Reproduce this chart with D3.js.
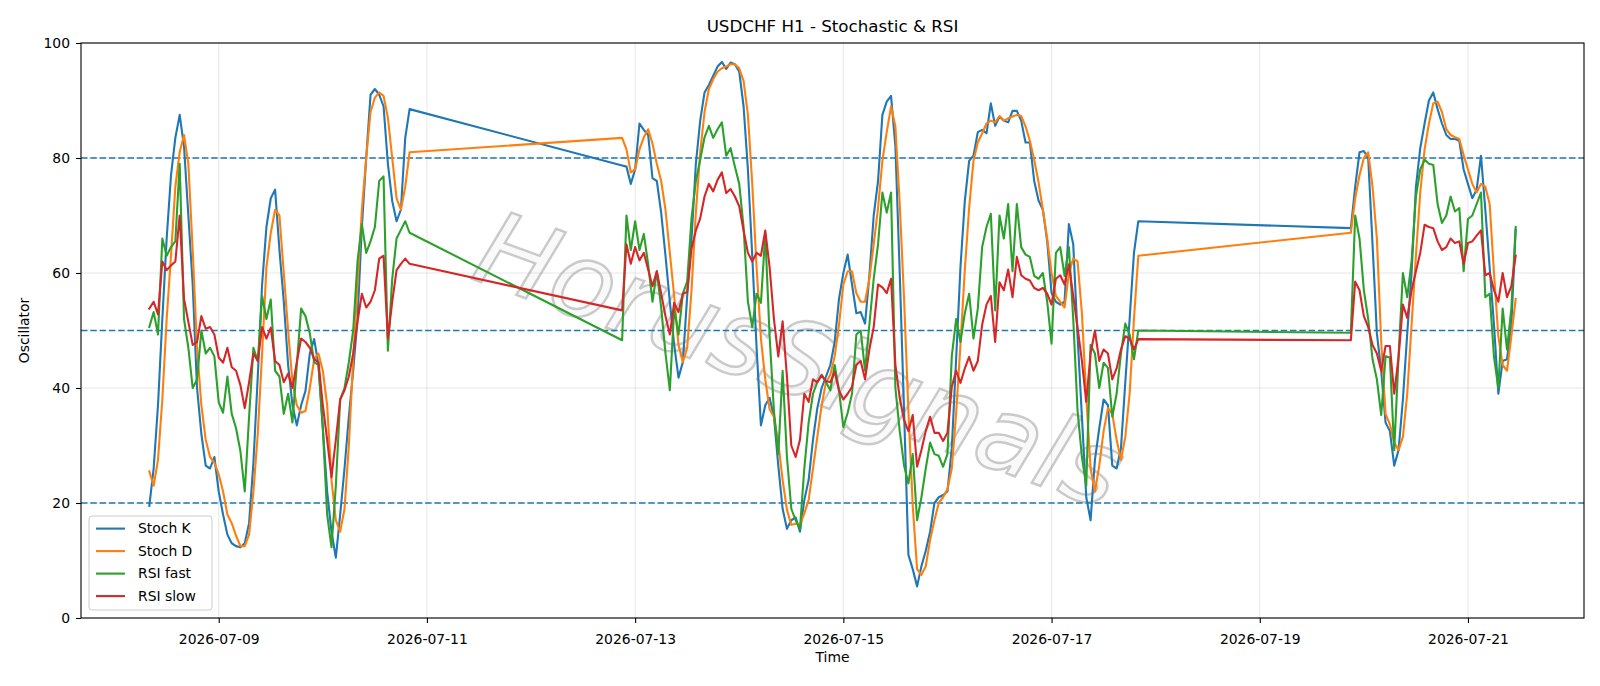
<!DOCTYPE html>
<html>
<head>
<meta charset="utf-8" />
<title>USDCHF H1 - Stochastic & RSI</title>
<script src="https://cdn.jsdelivr.net/npm/d3@7"></script>
<style>
body { margin: 0; background: #fff; }
svg { display: block; font-family: "DejaVu Sans", sans-serif; }
</style>
</head>
<body>
<div id="chart"></div>
<script>
// hourly bars, weekend gaps between the three sessions
var sessionStarts = ["2026-07-08T08:00:00Z", "2026-07-12T21:00:00Z", "2026-07-19T21:00:00Z"];
var sessionBars = [61, 120, 39];

var stochK = [
  // 07-08 08:00 .. 07-10 20:00
  19.5, 26, 37, 52, 66, 77, 83.5, 87.5, 82, 70,
  58, 40, 32, 26.5, 26, 28, 22, 18, 14.5, 13,
  12.5, 12.3, 13, 16.5, 27, 42, 58, 68, 73, 74.5,
  64, 55, 44, 37, 33.5, 37, 39.5, 46, 48.5, 44,
  33, 22, 15, 10.5, 18, 26, 35, 43, 52, 68,
  80, 91, 92, 91, 89, 79, 72.5, 69, 71, 83.5,
  88.5,
  // 07-12 21:00 .. 07-17 20:00
  78.7, 78.5, 75.5, 78, 86, 84.9, 84, 76.5, 76, 70.5,
  63, 55, 47.5, 41.8, 44.5, 56, 66, 79, 86.5, 91.4,
  92.7, 94.3, 95.9, 96.7, 95.5, 96.6, 96.3, 95, 89, 78,
  63, 47, 33.5, 37, 38.3, 35, 26.5, 19, 15.5, 17,
  17.5, 15, 20.5, 24, 31, 36.5, 40, 42, 44, 48,
  55.5, 60, 63.2, 58, 53, 53.2, 51.2, 59.5, 70, 76,
  87.5, 89.8, 90.8, 82, 60, 36, 11, 8.5, 5.5, 9,
  11.7, 15, 20, 21, 21.4, 22, 29.5, 45, 61, 72.5,
  79.5, 80.4, 84.5, 84.9, 84.3, 89.5, 85.6, 87.2, 86.5, 86.2,
  88.2, 88.2, 86.5, 82.7, 82.7, 76, 72.6, 71, 65.5, 56.5,
  55, 54.5, 55, 68.5, 65, 49, 35, 21, 17, 27.5,
  33, 38, 37, 26.5, 26, 29.5, 41, 52, 63.5, 69,
  // 07-19 21:00 .. 07-21 11:00
  67.8, 75, 81, 81.2, 80, 65, 49.5, 43, 34, 32.5,
  26.5, 29.2, 38, 49.5, 60, 75, 81.7, 86, 90, 91.4,
  88.5, 86, 84, 83.3, 83.3, 83, 78, 75.5, 73, 74.5,
  80.4, 71, 61, 51, 39, 44.7, 45, 51, 67.5
];

var stochD = [
  25.5, 23, 27.5, 38, 52, 63, 75, 81, 84, 79,
  64, 47, 37, 31, 28, 27, 25, 22, 18, 16.5,
  14.3, 12.5, 12.5, 14.5, 22, 32, 46, 61, 67, 71,
  70, 60, 50, 41, 37, 35.7, 36, 40, 45, 46,
  43, 37, 24, 17, 15, 19, 30, 45, 58, 71,
  80, 88, 90.5, 91.4, 90.8, 87, 80, 73, 71, 75,
  81,
  83.5, 81.5, 77.5, 78, 81.5, 83.6, 85, 82.5, 79, 76,
  71, 63.5, 56, 47.5, 44.5, 47, 57, 70.5, 81, 88,
  92, 93.7, 95, 95.6, 95.9, 96.3, 96.3, 95.6, 93.4, 87.5,
  75.5, 61, 48.6, 41.5, 36.3, 35, 30.5, 24, 18.8, 16.2,
  16.4, 16.2, 18.2, 20.5, 26, 31.5, 37, 41, 42.3, 45.5,
  51, 58, 60.3, 60.3, 56.5, 55, 55, 59, 65, 71.3,
  79.5, 84.5, 89, 85.5, 72, 55.5, 36, 19.5, 8.5, 7.5,
  9, 13.6, 17, 20, 21, 22.4, 26, 35.5, 47.5, 60.5,
  71.3, 79.5, 82.7, 84.3, 86, 86.5, 86.2, 87.3, 86.5, 86.9,
  87.2, 87.5, 87.3, 85.5, 83, 79.7, 75.8, 71, 66, 60,
  56, 55, 54, 60, 62.5, 62, 53, 38.5, 26, 22,
  26.5, 32.5, 36.5, 35.5, 31, 27.5, 31.5, 39, 52, 63,
  67, 73, 77, 80, 81, 75, 66, 48, 35.5, 33.7,
  30.5, 29.2, 31.5, 39, 51, 63, 74, 81.5, 86, 89.5,
  89.8, 88, 85, 84, 83.6, 83.3, 80.5, 78, 75.5, 74,
  75.5, 75, 72, 60, 49, 44, 43, 49, 55.5
];

var rsiFast = [
  50.6, 53.2, 49.3, 66, 63, 64.5, 65.5, 79, 52, 47,
  40, 41.5, 50, 46, 47, 45.5, 37.5, 35.7, 42, 35.5,
  33, 29, 22, 35, 47, 44.7, 56, 52, 55.4, 43,
  42, 35.5, 39, 34, 44, 53.8, 52.5, 49.5, 44.5, 44,
  33, 18, 12.3, 23, 38, 40, 44.5, 50, 62, 68.5,
  63.5, 65.5, 68, 76, 76.8, 46.5, 59, 66, 67.5, 69,
  67,
  48.3, 70, 64, 69, 64, 66.8, 61.5, 55, 60.3, 54,
  46, 39.6, 53.8, 49.3, 56.4, 58.5, 69.5, 76, 79.7, 83.6,
  85.6, 83.5, 85, 86.2, 80.4, 81.7, 78.5, 75.5, 68, 55,
  50.6, 56.4, 54.8, 66.8, 49, 36, 28.5, 43, 28, 19,
  17, 15.5, 26, 34, 39, 41, 42.3, 41, 39.6, 44,
  39.6, 33.2, 35.7, 39, 49.3, 50, 43, 51, 59, 65,
  74, 70.5, 74, 40, 32.5, 26.5, 23.4, 28.5, 17, 21,
  26, 30.5, 28.5, 28.2, 26.3, 28.5, 45.5, 52, 48, 53,
  56.4, 48.6, 53.8, 64.5, 68, 70.3, 53.5, 70, 66, 72,
  60.3, 72, 64.5, 63.2, 62.8, 59.5, 59, 60, 55, 47.7,
  63.5, 64.5, 59.5, 64.5, 52, 36, 28, 23, 47.5, 46,
  40, 44.4, 43.5, 35, 39, 46, 51.2, 49.3, 45, 50,
  49.6, 70, 66, 57, 52, 45, 41.5, 35.3, 45.5, 45.3,
  29.2, 45.5, 60, 55.8, 62, 73.3, 78, 79.7, 79, 78.8,
  72, 68.7, 70, 73.3, 70.7, 71.3, 60.3, 69.4, 70, 72,
  74, 55.8, 56.4, 45.4, 40, 53.8, 46.7, 53.8, 68
];

var rsiSlow = [
  53.8, 55, 52.8, 62, 60.5, 61.3, 62, 70, 55.5, 51.5,
  47.5, 48, 52.5, 50.3, 50.6, 49.3, 45.3, 44.4, 47, 43.6,
  43, 40.5, 36.5, 41, 46, 44.7, 50.6, 48.6, 50.5, 44.7,
  44, 41, 42.5, 40, 44.5, 48.6, 48, 47, 45, 44.5,
  37, 31, 24.5, 31, 38, 39.6, 42, 46, 51.5, 56.4,
  54, 55, 57, 62.5, 63, 48.6, 55, 60.5, 61.6, 62.5,
  61.6,
  53.5, 65, 61.6, 64.5, 62.2, 63.5, 60.6, 57.7, 60.3, 56.4,
  52.5, 49.3, 54.8, 53.2, 56.4, 56.7, 64.2, 67.4, 69.5, 73.3,
  75.5, 74.2, 76.2, 77.5, 73.9, 74.6, 73.3, 71.6, 67.4, 63.5,
  62, 63.5, 63, 67.4, 61, 52, 45.5, 51.6, 42, 30,
  28, 31, 39, 37.6, 41.5, 41, 42.2, 41.2, 41, 42.8,
  39.6, 38, 39, 40.2, 44, 44.7, 41.5, 46.7, 50.6, 58,
  57.5, 56.5, 59, 44, 38.3, 34.4, 32.5, 35.3, 26.3, 29.2,
  32.5, 35, 32.2, 32.2, 30.8, 32.2, 40.2, 43, 40.9, 43.4,
  45.4, 43, 44.7, 51, 54.5, 56, 48, 58.4, 57, 60.6,
  55.8, 62.8, 59.6, 59, 58.7, 57.4, 57, 57.4, 56.4, 54.5,
  59, 59.6, 58, 61.5, 56, 50.5, 44.7, 37.6, 46, 50,
  44.7, 46.7, 46, 41.5, 43.4, 46.7, 49, 48.6, 46.7, 48.5,
  48.3, 58.5, 57, 52.5, 50.6, 47.5, 46, 43, 47.3, 47.3,
  39, 45.4, 54.5, 52.2, 57, 60.3, 63.5, 68.4, 68, 67.8,
  65.5, 64, 64.5, 66, 65.2, 65.5, 61.6, 65.2, 65.5, 66.5,
  67.4, 59.6, 60, 57, 55, 60, 55.8, 57.7, 63
];

var seriesNames = ["Stoch K", "Stoch D", "RSI fast", "RSI slow"];
var seriesColors = ["#1f77b4", "#ff7f0e", "#2ca02c", "#d62728"];
var levels = [80, 50, 20];
var yTicks = [0, 20, 40, 60, 80, 100];
var xTickDates = ["2026-07-09", "2026-07-11", "2026-07-13", "2026-07-15", "2026-07-17", "2026-07-19", "2026-07-21"];

var width = 1600, height = 686;
var margin = {top: 43, right: 16, bottom: 68, left: 81};
var plotW = width - margin.left - margin.right;
var plotH = height - margin.top - margin.bottom;

// build the hourly time axis
var times = [];
sessionStarts.forEach(function(s, k) {
  var t0 = Date.parse(s);
  for (var i = 0; i < sessionBars[k]; i++) times.push(new Date(t0 + i * 3600 * 1000));
});

var allSeries = [stochK, stochD, rsiFast, rsiSlow].map(function(vals, k) {
  return {name: seriesNames[k], color: seriesColors[k],
    points: vals.map(function(v, i) { return {t: times[i], v: v}; })};
});

var tMin = times[0], tMax = times[times.length - 1];
var pad = (tMax - tMin) * 0.05;
var x = d3.scaleUtc()
  .domain([new Date(+tMin - pad), new Date(+tMax + pad)])
  .range([0, plotW]);
var y = d3.scaleLinear().domain([0, 100]).range([plotH, 0]);

var svg = d3.select("#chart").append("svg")
  .attr("width", width)
  .attr("height", height);
svg.append("rect").attr("width", width).attr("height", height).attr("fill", "#fff");

var g = svg.append("g").attr("transform", "translate(" + margin.left + "," + margin.top + ")");

var parseDay = d3.utcParse("%Y-%m-%d");
var xTicks = xTickDates.map(parseDay);

// grid
g.append("g").selectAll("line").data(yTicks).join("line")
  .attr("x1", 0).attr("x2", plotW)
  .attr("y1", function(d) { return y(d); }).attr("y2", function(d) { return y(d); })
  .attr("stroke", "#b0b0b0").attr("stroke-opacity", 0.3).attr("stroke-width", 1);
g.append("g").selectAll("line").data(xTicks).join("line")
  .attr("y1", 0).attr("y2", plotH)
  .attr("x1", function(d) { return x(d); }).attr("x2", function(d) { return x(d); })
  .attr("stroke", "#b0b0b0").attr("stroke-opacity", 0.3).attr("stroke-width", 1);

// watermark
g.append("text")
  .attr("transform", "translate(" + (800 - margin.left) + "," + (360 - margin.top) + ") rotate(20)")
  .attr("text-anchor", "middle")
  .attr("dominant-baseline", "central")
  .attr("font-size", 104)
  .attr("font-style", "italic")
  .attr("fill", "#cfcfcf")
  .attr("fill-opacity", 0.12)
  .attr("stroke", "#a0a0a0")
  .attr("stroke-opacity", 0.55)
  .attr("stroke-width", 2.4)
  .text("HorusSignals");

// level lines
g.append("g").selectAll("line").data(levels).join("line")
  .attr("x1", 0).attr("x2", plotW)
  .attr("y1", function(d) { return y(d); }).attr("y2", function(d) { return y(d); })
  .attr("stroke", "#1f77b4").attr("stroke-width", 1.3)
  .attr("stroke-dasharray", "6.5,2.8");

var line = d3.line()
  .x(function(d) { return x(d.t); })
  .y(function(d) { return y(d.v); });

g.append("g").selectAll("path").data(allSeries).join("path")
  .attr("d", function(d) { return line(d.points); })
  .attr("fill", "none")
  .attr("stroke", function(d) { return d.color; })
  .attr("stroke-width", 2.1)
  .attr("stroke-linejoin", "round")
  .attr("stroke-linecap", "square");

// axes
var xAxis = g.append("g").attr("transform", "translate(0," + plotH + ")")
  .call(d3.axisBottom(x).tickValues(xTicks).tickFormat(d3.utcFormat("%Y-%m-%d"))
    .tickSize(5).tickPadding(11).tickSizeOuter(0));
var yAxis = g.append("g")
  .call(d3.axisLeft(y).tickValues(yTicks).tickSize(5).tickPadding(6).tickSizeOuter(0));
[xAxis, yAxis].forEach(function(a) {
  a.select(".domain").remove();
  a.selectAll("text").attr("font-size", 13.9).attr("fill", "#000").attr("font-family", "DejaVu Sans");
  a.selectAll(".tick line").attr("stroke", "#000").attr("stroke-width", 1.1);
});

g.append("rect")
  .attr("width", plotW).attr("height", plotH)
  .attr("fill", "none").attr("stroke", "#000").attr("stroke-width", 1.1);

// titles
svg.append("text")
  .attr("x", margin.left + plotW / 2).attr("y", 32)
  .attr("text-anchor", "middle").attr("font-size", 16.7)
  .text("USDCHF H1 - Stochastic & RSI");
svg.append("text")
  .attr("x", margin.left + plotW / 2).attr("y", 662)
  .attr("text-anchor", "middle").attr("font-size", 13.9)
  .text("Time");
svg.append("text")
  .attr("transform", "translate(29," + (margin.top + plotH / 2) + ") rotate(-90)")
  .attr("text-anchor", "middle").attr("font-size", 13.9)
  .text("Oscillator");

// legend
var leg = svg.append("g").attr("transform", "translate(89,516)");
leg.append("rect")
  .attr("width", 123).attr("height", 94).attr("rx", 3)
  .attr("fill", "#fff").attr("fill-opacity", 0.8)
  .attr("stroke", "#cccccc").attr("stroke-width", 1);
var items = leg.selectAll("g.item").data(allSeries).join("g")
  .attr("class", "item")
  .attr("transform", function(d, i) { return "translate(0," + (12.6 + i * 22.5) + ")"; });
items.append("line")
  .attr("x1", 7).attr("x2", 36)
  .attr("stroke", function(d) { return d.color; }).attr("stroke-width", 2.1);
items.append("text")
  .attr("x", 49).attr("dy", "0.35em")
  .attr("font-size", 13.9)
  .text(function(d) { return d.name; });
</script>
</body>
</html>
